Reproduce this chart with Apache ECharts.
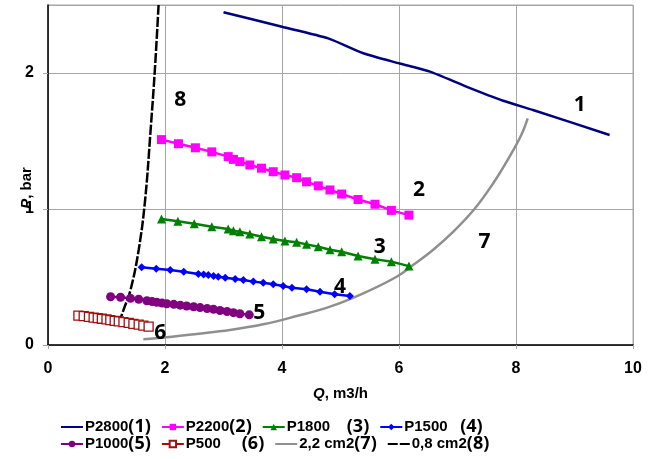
<!DOCTYPE html>
<html><head><meta charset="utf-8">
<script src="https://cdn.jsdelivr.net/npm/echarts@6/dist/echarts.min.js"></script>
<style>html,body{margin:0;padding:0;background:#fff}#c{width:660px;height:459px}</style>
</head><body><div id="c"></div>
<script>
// ---- data ----
const xTicks = [0, 2, 4, 6, 8, 10];
const yTicks = [0, 1, 2];

const seriesNames = ['P2800', 'P2200', 'P1800', 'P1500', 'P1000', 'P500', '2,2 cm2', '0,8 cm2'];
const seriesTags = ['(1)', '(2)', '(3)', '(4)', '(5)', '(6)', '(7)', '(8)'];

const q2800 = [3.0, 4.0, 4.79, 5.39, 6.01, 6.53, 7.15, 7.78, 8.29, 9.6];
const p2800 = [2.447, 2.34, 2.255, 2.145, 2.07, 2.01, 1.90, 1.796, 1.728, 1.544];

const q2200 = [1.94, 2.23, 2.52, 2.80, 3.08, 3.17, 3.28, 3.45, 3.65, 3.85, 4.05, 4.25, 4.42, 4.62, 4.82, 5.02, 5.30, 5.59, 5.87, 6.17];
const p2200 = [1.51, 1.48, 1.45, 1.42, 1.385, 1.365, 1.348, 1.324, 1.30, 1.274, 1.25, 1.23, 1.20, 1.17, 1.14, 1.11, 1.07, 1.035, 0.99, 0.955];

const q1800 = [1.94, 2.22, 2.50, 2.80, 3.08, 3.17, 3.28, 3.45, 3.65, 3.85, 4.05, 4.25, 4.42, 4.62, 4.82, 5.02, 5.30, 5.59, 5.87, 6.17];
const p1800 = [0.926, 0.91, 0.892, 0.87, 0.853, 0.84, 0.833, 0.816, 0.796, 0.779, 0.765, 0.755, 0.74, 0.723, 0.70, 0.686, 0.654, 0.63, 0.613, 0.58];

const q1500 = [1.60, 1.85, 2.09, 2.32, 2.57, 2.66, 2.74, 2.83, 2.91, 3.03, 3.20, 3.34, 3.51, 3.68, 3.85, 4.02, 4.17, 4.42, 4.65, 4.90, 5.16];
const p1500 = [0.571, 0.561, 0.551, 0.539, 0.522, 0.518, 0.514, 0.508, 0.502, 0.495, 0.485, 0.478, 0.466, 0.458, 0.446, 0.434, 0.421, 0.41, 0.392, 0.373, 0.36];

const q1000 = [1.07, 1.24, 1.41, 1.55, 1.69, 1.78, 1.86, 1.95, 2.03, 2.15, 2.26, 2.37, 2.49, 2.60, 2.72, 2.83, 2.94, 3.06, 3.17, 3.28, 3.44];
const p1000 = [0.355, 0.351, 0.343, 0.336, 0.325, 0.319, 0.314, 0.308, 0.303, 0.299, 0.293, 0.287, 0.281, 0.275, 0.268, 0.262, 0.254, 0.246, 0.238, 0.23, 0.222];

const q500 = [0.52, 0.61, 0.70, 0.78, 0.85, 0.92, 1.00, 1.065, 1.14, 1.21, 1.29, 1.38, 1.46, 1.55, 1.63, 1.72];
const p500 = [0.216, 0.212, 0.207, 0.202, 0.197, 0.193, 0.188, 0.183, 0.178, 0.173, 0.168, 0.162, 0.156, 0.150, 0.143, 0.135];

const q22 = [1.63, 2.03, 2.54, 3.11, 3.68, 4.25, 4.82, 5.39, 5.96, 6.24, 6.58, 6.92, 7.29, 7.61, 7.89, 8.09, 8.20];
const p22 = [0.042, 0.057, 0.081, 0.110, 0.152, 0.213, 0.282, 0.38, 0.502, 0.588, 0.699, 0.83, 1.0, 1.189, 1.385, 1.544, 1.667];

const q08 = [1.21, 1.29, 1.41, 1.55, 1.66, 1.75, 1.83, 1.89];
const p08 = [0.16, 0.257, 0.404, 0.699, 1.066, 1.557, 2.046, 2.5];

// curve annotation numbers, anchored in data units (Q, P)
const noteText = ['1', '2', '3', '4', '5', '6', '7', '8'];
const noteQ = [9.09, 6.34, 5.67, 4.99, 3.61, 1.92, 7.46, 2.26];
const noteP = [1.765, 1.14, 0.72, 0.426, 0.235, 0.088, 0.757, 1.80];

// ---- chart ----
const zip = (a, b) => a.map((v, i) => [v, b[i]]);
const F = 'Liberation Sans, Arial, sans-serif';
const F2 = 'Open Sans, Noto Sans, sans-serif';

function note(i) {
  return {
    silent: true, symbol: 'circle', symbolSize: 0,
    label: { show: true, position: 'inside', formatter: noteText[i], fontFamily: F2, fontWeight: 'bold', fontSize: 21, color: '#000' },
    data: [{ coord: [noteQ[i], noteP[i]] }]
  };
}

const colors = ['#000080', '#ff00ff', '#008000', '#0000ff', '#800080', '#a01010', '#8f8f8f', '#000000'];
const dataSets = [[q2800, p2800], [q2200, p2200], [q1800, p1800], [q1500, p1500], [q1000, p1000], [q500, p500], [q22, p22], [q08, p08]];
const symbols = ['none', 'rect', 'triangle', 'diamond', 'circle', 'rect', 'none', 'none'];
const symSizes = [0, 9, 9, 8, 9, 9, 0, 0];

const series = dataSets.map((d, i) => {
  const s = {
    name: seriesNames[i], type: 'line', data: zip(d[0], d[1]),
    symbol: symbols[i], symbolSize: symSizes[i], showSymbol: symbols[i] !== 'none',
    color: colors[i],
    lineStyle: { color: colors[i], width: 2.5 },
    itemStyle: { color: colors[i] },
    markPoint: note(i), z: 3
  };
  if (i === 5) { s.itemStyle = { color: '#fff', borderColor: colors[i], borderWidth: 1.3 }; s.lineStyle.width = 2; }
  if (i === 6) { s.smooth = 0.4; s.lineStyle = { color: '#8f8f8f', width: 2.5 }; s.z = 2; }
  if (i === 7) { s.smooth = 0.4; s.lineStyle = { color: '#000', width: 2.5, type: [10, 2] }; }
  if (i === 0) { s.smooth = 0.2; }
  return s;
});

const legendText = {
  'P2800': '{a|P2800}{b|(1)}', 'P2200': '{a|P2200}{b|(2)}', 'P1800': '{a|P1800    }{b|(3)}', 'P1500': '{a|P1500   }{b|(4)}',
  'P1000': '{a|P1000}{b|(5)}', 'P500': '{a|P500     }{b|(6)}', '2,2 cm2': '{a|2,2 cm2}{b|(7)}', '0,8 cm2': '{a|0,8 cm2}{b|(8)}'
};
const legendItem = (n, i) => (symbols[i] === 'none' ? { name: n, itemStyle: { opacity: 0 } } : { name: n });
const legendBase = {
  left: 60, itemWidth: 22, itemHeight: 8, itemGap: 10, padding: 0,
  formatter: n => legendText[n],
  textStyle: {
    width: 72, padding: [0, 0, 0, -3],
    rich: {
      a: { fontFamily: F, fontWeight: 'bold', fontSize: 15, color: '#000', lineHeight: 16 },
      b: { fontFamily: F2, fontWeight: 'bold', fontSize: 18, color: '#000', lineHeight: 16 }
    }
  }
};

const chart = echarts.init(document.getElementById('c'));
chart.setOption({
  animation: false,
  backgroundColor: '#fff',
  grid: { left: 48, right: 27, top: 5, bottom: 114, containLabel: false, outerBoundsMode: 'none', show: true, borderColor: '#a6a6a6', borderWidth: 1 },
  legend: [
    Object.assign({}, legendBase, { top: 418, data: seriesNames.slice(0, 4).map((n, i) => legendItem(n, i)) }),
    Object.assign({}, legendBase, { top: 435, data: seriesNames.slice(4).map((n, i) => legendItem(n, i + 4)) })
  ],
  xAxis: {
    type: 'value', min: xTicks[0], max: xTicks[xTicks.length - 1], interval: 2,
    name: '{i|Q}, m3/h', nameLocation: 'middle', nameGap: 41, nameMoveOverlap: false,
    nameTextStyle: { fontFamily: F, fontWeight: 'bold', fontSize: 15, color: '#000', rich: { i: { fontFamily: F, fontStyle: 'italic', fontWeight: 'bold', fontSize: 15, color: '#000' } } },
    axisLine: { show: true, lineStyle: { color: '#000', width: 1.5 } },
    axisTick: { show: true, length: 4, lineStyle: { color: '#a6a6a6' } },
    axisLabel: { margin: 16, fontFamily: F, fontWeight: 'bold', fontSize: 16, color: '#000' },
    splitLine: { show: true, lineStyle: { color: '#a6a6a6', width: 1 } }
  },
  yAxis: {
    type: 'value', min: 0, max: 2.5, interval: 1,
    name: '{i|P}, bar', nameLocation: 'middle', nameGap: 14, nameRotate: 90, nameMoveOverlap: false,
    nameTextStyle: { fontFamily: F, fontWeight: 'bold', fontSize: 15, color: '#000', padding: [0, 26, 0, 0], rich: { i: { fontFamily: F, fontStyle: 'italic', fontWeight: 'bold', fontSize: 15, color: '#000' } } },
    axisLine: { show: true, lineStyle: { color: '#000', width: 1.5 } },
    axisTick: { show: true, length: 5, lineStyle: { color: '#a6a6a6' } },
    axisLabel: { margin: 14, showMaxLabel: false, fontFamily: F, fontWeight: 'bold', fontSize: 16, color: '#000', formatter: v => (yTicks.indexOf(v) >= 0 ? String(v) : '') },
    splitLine: { show: true, lineStyle: { color: '#a6a6a6', width: 1 } }
  },
  series: series
});
</script></body></html>
